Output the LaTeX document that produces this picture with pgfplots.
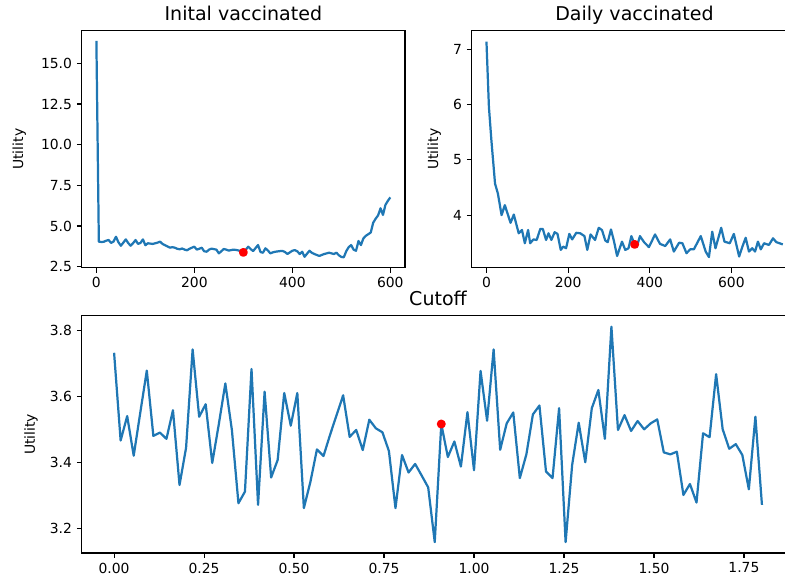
\documentclass[border=0pt]{standalone}
\usepackage{pgfplots}
\pgfplotsset{compat=1.18}
\usepackage{fontspec}
\setmainfont{DejaVu Sans}
\definecolor{tabblue}{HTML}{1F77B4}
\pgfplotsset{mpl/.style={
  scale only axis, anchor=south west,
  axis line style={line width=0.8pt},
  tick align=outside, major tick length=3.5pt,
  every tick/.style={black, line width=0.8pt},
  xtick pos=left, ytick pos=left,
  tick label style={font=\fontsize{10}{12}\selectfont},
  /pgf/number format/assume math mode=true,
  label style={font=\fontsize{10}{12}\selectfont},
  ylabel style={xshift=0pt, yshift=1.8pt},
  title style={font=\fontsize{13.7}{16}\selectfont, text depth=3.2pt, yshift=-5.2pt},
  ylabel={Utility},
  every axis plot/.append style={line width=1.6pt, tabblue, line join=round},
}}
\pgfplotsset{reddot/.style={only marks, mark=*, mark size=2.4pt, color=red, mark options={draw=none, fill=red}}}
\begin{document}
\begin{tikzpicture}
\begin{scope}
\clip (0,0) rectangle (565.2pt,419.04pt);
% ---------- Initial vaccinated ----------
\begin{axis}[mpl, at={(58.82pt,226.3pt)}, width=232.8pt, height=170.6pt,
  title={Inital vaccinated},
  ylabel style={yshift=2.2pt},
  xmin=-30, xmax=630, ymin=2.44, ymax=17.0,
  xtick={0,200,400,600}, ytick={2.5,5,7.5,10,12.5,15},
  yticklabel style={/pgf/number format/.cd, fixed, fixed zerofill, precision=1},
]
\addplot[no marks] coordinates {
(0,16.37) (5,4.04) (10,4.02) (15,4.03) (20,4.10) (25,4.14) (30,3.96) (35,4.05) (40,4.34) (45,4.00)
(50,3.79) (55,3.98) (60,4.18) (65,3.95) (70,3.79) (75,3.95) (80,4.14) (85,3.90) (90,3.96) (95,4.18)
(100,3.82) (105,3.94) (110,3.92) (115,3.90) (120,3.94) (125,3.98) (130,4.04) (135,3.90) (140,3.82) (145,3.75)
(150,3.67) (155,3.70) (160,3.67) (165,3.60) (170,3.57) (175,3.62) (180,3.55) (185,3.51) (190,3.60) (195,3.67)
(200,3.73) (205,3.55) (210,3.60) (215,3.67) (220,3.45) (225,3.42) (230,3.55) (235,3.61) (240,3.58) (245,3.55)
(250,3.32) (255,3.45) (260,3.59) (265,3.55) (270,3.49) (275,3.52) (280,3.55) (285,3.53) (290,3.50) (295,3.45)
(300,3.38) (305,3.55) (310,3.73) (315,3.58) (320,3.46) (325,3.65) (330,3.83) (335,3.40) (340,3.36) (345,3.63)
(350,3.50) (355,3.32) (360,3.38) (365,3.42) (370,3.44) (375,3.46) (380,3.47) (385,3.40) (390,3.28) (395,3.38)
(400,3.48) (405,3.52) (410,3.45) (415,3.28) (420,3.42) (425,3.11) (430,3.30) (435,3.48) (440,3.35) (445,3.28)
(450,3.22) (455,3.16) (460,3.22) (465,3.28) (470,3.32) (475,3.36) (480,3.32) (485,3.28) (490,3.36) (495,3.20)
(500,3.10) (505,3.08) (510,3.45) (515,3.70) (520,3.83) (525,3.55) (530,3.48) (535,4.08) (540,3.83) (545,4.24)
(550,4.40) (555,4.50) (560,4.60) (565,5.20) (570,5.45) (575,5.65) (580,6.09) (585,5.68) (590,6.30) (595,6.55)
(600,6.76)
};
\addplot[reddot] coordinates {(300,3.38)};
\end{axis}
% ---------- Daily vaccinated ----------
\begin{axis}[mpl, at={(339.6pt,226.3pt)}, width=234.4pt, height=170.6pt,
  title={Daily vaccinated},
  xmin=-36.25, xmax=761.25, ymin=3.048, ymax=7.338,
  xtick={0,200,400,600}, ytick={4,5,6,7},
]
\addplot[no marks] coordinates {
(0,7.14) (6,5.96) (12,5.36) (21,4.57) (28,4.39) (37,4.00) (45,4.18) (52,4.02) (59,3.86) (67,4.01)
(79,3.67) (87,3.73) (94,3.49) (102,3.73) (107,3.49) (115,3.56) (123,3.55) (132,3.75) (138,3.75) (146,3.55)
(152,3.67) (159,3.55) (167,3.69) (174,3.66) (182,3.37) (188,3.43) (195,3.40) (203,3.66) (210,3.56) (220,3.68)
(230,3.67) (240,3.62) (247,3.37) (255,3.65) (266,3.55) (275,3.77) (283,3.73) (291,3.54) (297,3.51) (305,3.74)
(312,3.54) (320,3.26) (332,3.52) (340,3.37) (348,3.40) (355,3.62) (363,3.47) (368,3.42) (376,3.62) (386,3.51)
(398,3.42) (413,3.65) (425,3.48) (438,3.44) (450,3.56) (459,3.34) (472,3.50) (480,3.49) (490,3.31) (499,3.38)
(508,3.38) (525,3.62) (537,3.34) (545,3.24) (553,3.70) (561,3.40) (575,3.77) (583,3.52) (596,3.49) (606,3.66)
(619,3.25) (627,3.43) (635,3.59) (643,3.34) (651,3.40) (658,3.34) (665,3.52) (672,3.38) (680,3.49) (692,3.46)
(702,3.58) (710,3.51) (718,3.49) (726,3.47)
};
\addplot[reddot] coordinates {(363,3.47)};
\end{axis}
% ---------- Cutoff ----------
\begin{axis}[mpl, at={(58.82pt,20.88pt)}, width=513.1pt, height=171pt,
  title={Cutoff},
  xmin=-0.09, xmax=1.89, ymin=3.125, ymax=3.845,
  xtick={0,0.25,0.5,0.75,1,1.25,1.5,1.75}, ytick={3.2,3.4,3.6,3.8},
  xticklabel style={/pgf/number format/.cd, fixed, fixed zerofill, precision=2},
  yticklabel style={/pgf/number format/.cd, fixed, fixed zerofill, precision=1},
]
\addplot[no marks] coordinates {
(0,3.732) (0.0182,3.466) (0.0364,3.540) (0.0545,3.420) (0.0727,3.550) (0.0909,3.678) (0.1091,3.480) (0.1273,3.490) (0.1455,3.471) (0.1636,3.558)
(0.1818,3.331) (0.2,3.444) (0.2182,3.742) (0.2364,3.538) (0.2545,3.576) (0.2727,3.398) (0.2909,3.515) (0.3091,3.639) (0.3273,3.498) (0.3455,3.276)
(0.3636,3.311) (0.3818,3.683) (0.4,3.271) (0.4182,3.614) (0.4364,3.354) (0.4545,3.407) (0.4727,3.610) (0.4909,3.511) (0.5091,3.610) (0.5273,3.261)
(0.5455,3.341) (0.5636,3.439) (0.5818,3.419) (0.6,3.483) (0.6182,3.543) (0.6364,3.603) (0.6545,3.477) (0.6727,3.498) (0.6909,3.437) (0.7091,3.529)
(0.7273,3.503) (0.7455,3.491) (0.7636,3.434) (0.7818,3.261) (0.8,3.422) (0.8182,3.369) (0.8364,3.395) (0.8545,3.360) (0.8727,3.324) (0.8909,3.158)
(0.9091,3.516) (0.9273,3.416) (0.9455,3.463) (0.9636,3.387) (0.9818,3.552) (1.0,3.376) (1.0182,3.677) (1.0364,3.526) (1.0545,3.742) (1.0727,3.438)
(1.0909,3.518) (1.1091,3.551) (1.1273,3.352) (1.1455,3.424) (1.1636,3.545) (1.1818,3.572) (1.2,3.372) (1.2182,3.352) (1.2364,3.564) (1.2545,3.158)
(1.2727,3.392) (1.2909,3.520) (1.3091,3.400) (1.3273,3.564) (1.3455,3.619) (1.3636,3.471) (1.3818,3.811) (1.4,3.498) (1.4182,3.543) (1.4364,3.495)
(1.4545,3.525) (1.4727,3.500) (1.4909,3.518) (1.5091,3.530) (1.5273,3.430) (1.5455,3.424) (1.5636,3.432) (1.5818,3.301) (1.6,3.334) (1.6182,3.278)
(1.6364,3.488) (1.6545,3.476) (1.6727,3.667) (1.6909,3.500) (1.7091,3.441) (1.7273,3.455) (1.7455,3.422) (1.7636,3.318) (1.7818,3.538) (1.8,3.271)
};
\addplot[reddot] coordinates {(0.9091,3.516)};
\end{axis}
\end{scope}
\pgfresetboundingbox
\path[use as bounding box] (0,0) rectangle (565.2pt,419.04pt);
\end{tikzpicture}
\end{document}
